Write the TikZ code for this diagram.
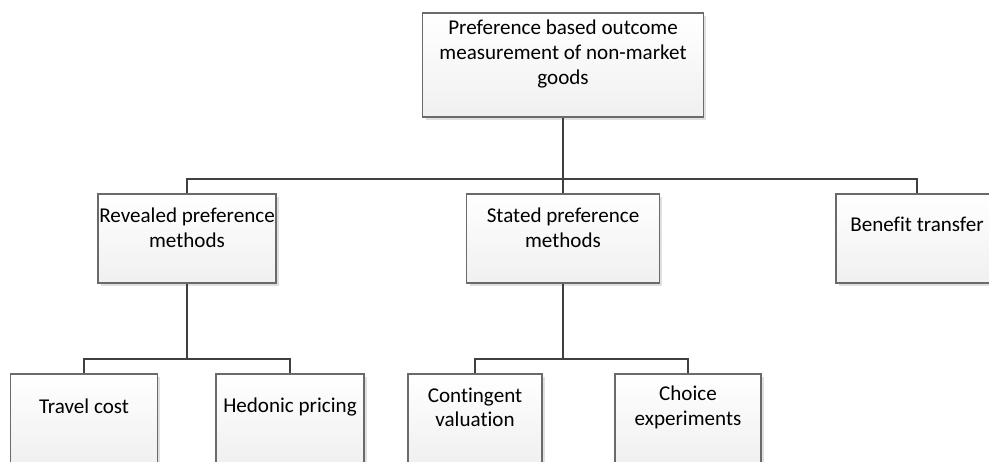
\documentclass[tikz,border=0pt]{standalone}
\usepackage{fontspec}
\setmainfont{Carlito}[Ligatures=NoCommon]
\usetikzlibrary{positioning, shadows, calc}
\definecolor{boxline}{HTML}{6A6A6A}
\definecolor{boxbottom}{HTML}{F0F0F0}
\definecolor{linkgray}{HTML}{404040}

\begin{document}
\begin{tikzpicture}[
    x=0.02cm, y=-0.02cm,
    method/.style={rectangle, draw=boxline, line width=0.75pt, top color=white, bottom color=boxbottom,
        minimum height=1.78cm, inner sep=0pt,
        drop shadow={shadow xshift=0.06cm, shadow yshift=-0.06cm, fill=black!20, opacity=0.6}},
    label text/.style={align=center, font=\fontsize{12}{14}\selectfont, inner sep=0pt},
    link/.style={draw=linkgray, line width=1pt},
]
\useasboundingbox (0,0) rectangle (989,462);
\clip (0,0) rectangle (989,462);

% top level
\node[method, minimum width=5.62cm, minimum height=2.08cm] (goal) at (563,65) {};
\node[label text] at ($(goal.center)+(0,-11)$) {Preference based outcome\\measurement of non-market\\goods};

% second level
\node[method, minimum width=3.56cm] (revealed) at (187,238.5) {};
\node[label text] at ($(revealed.center)+(0,-11)$) {Revealed preference\\methods};
\node[method, minimum width=3.86cm] (stated) at (563,238.5) {};
\node[label text] at ($(stated.center)+(0,-11)$) {Stated preference\\methods};
\node[method, minimum width=3.24cm] (transfer) at (917,238.5) {};
\node[label text] at ($(transfer.center)+(0,-14)$) {Benefit transfer};

% third level
\node[method, minimum width=2.94cm] (travel) at (84,418.5) {};
\node[label text] at ($(travel.center)+(0,-12)$) {Travel cost};
\node[method, minimum width=2.96cm] (hedonic) at (290,418.5) {};
\node[label text] at ($(hedonic.center)+(0,-12)$) {Hedonic pricing};
\node[method, minimum width=2.68cm] (contingent) at (475,418.5) {};
\node[label text] at ($(contingent.center)+(0,-11)$) {Contingent\\valuation};
\node[method, minimum width=2.92cm] (choice) at (688,418.5) {};
\node[label text] at ($(choice.center)+(0,-11)$) {Choice\\experiments};

% connectors
\coordinate (split) at (563,179);
\coordinate (splitrp) at (187,359);
\coordinate (splitsp) at (563,359);
\draw[link] (goal.south) -- (split);
\draw[link] (split) -| (revealed.north);
\draw[link] (split) -- (stated.north);
\draw[link] (split) -| (transfer.north);
\draw[link] (revealed.south) -- (splitrp);
\draw[link] (splitrp) -| (travel.north);
\draw[link] (splitrp) -| (hedonic.north);
\draw[link] (stated.south) -- (splitsp);
\draw[link] (splitsp) -| (contingent.north);
\draw[link] (splitsp) -| (choice.north);

\end{tikzpicture}
\end{document}
